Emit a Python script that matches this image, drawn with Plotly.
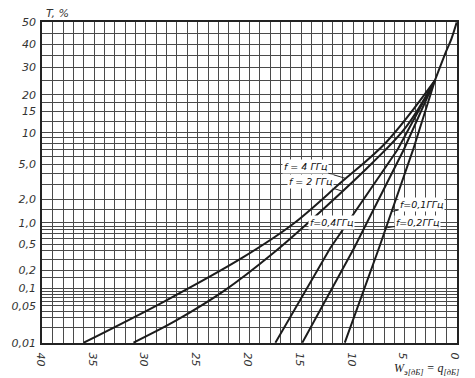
from statistics import NormalDist
import numpy as np
import plotly.graph_objects as go

# ---------------- data ----------------
# W (dB) values and probability T (%) along each curve
f4_W = [36.0, 28.2, 20.6, 15.8, 11.1, 6.8, 2.1]
f4_T = [0.01, 0.06, 0.32, 0.96, 3.2, 8.2, 25]
f2_W = [31.2, 27.2, 22.5, 17.7, 13.0, 8.25, 4.9, 2.1]
f2_T = [0.01, 0.026, 0.09, 0.37, 1.46, 5.0, 11.2, 25]
f04_W = [17.5, 12.2, 5.7, 2.1]
f04_T = [0.01, 0.44, 7.0, 25]
f02_W = [14.9, 9.9, 5.1, 2.1]
f02_T = [0.01, 0.44, 7.0, 25]
f01_W = [10.8, 7.5, 4.2, 2.1]
f01_T = [0.01, 0.44, 7.0, 25]
common_W = [2.1, 1.0, 0.5, 0.0]
common_T = [25, 37, 42.5, 50]

# probability-paper grid values and labels
grid_T = [50, 45, 40, 35, 30, 25, 20, 17.5, 15, 12.5, 10, 9, 8, 7, 6, 5, 4, 3, 2, 1.5,
          1, 0.9, 0.8, 0.7, 0.6, 0.5, 0.4, 0.3, 0.2, 0.15, 0.1, 0.09, 0.08, 0.07, 0.06,
          0.05, 0.04, 0.03, 0.02, 0.01]
label_T = {50: "50", 40: "40", 30: "30", 20: "20", 15: "15", 10: "10", 5: "5,0",
           2: "2,0", 1: "1,0", 0.5: "0,5", 0.2: "0,2", 0.1: "0,1", 0.05: "0,05", 0.01: "0,01"}
x_ticks = list(range(0, 41))
x_labels = {0: "0", 5: "5", 10: "10", 15: "15", 20: "20", 25: "25", 30: "30", 35: "35", 40: "40"}

curve_names = ["f = 4 ГГц", "f = 2 ГГц", "f=0,4ГГц", "f=0,2ГГц", "f=0,1ГГц"]

# ---------------- probability (probit) scale ----------------
nd = NormalDist()
def pz(t):
    if np.ndim(t) == 0:
        return nd.inv_cdf(float(t) / 100.0)
    return np.array([nd.inv_cdf(v / 100.0) for v in t])

def w_on(Wlist, Tlist, t):
    return float(np.interp(pz(t), pz(Tlist), Wlist))

fig = go.Figure()
for W, T, sm in [(f4_W, f4_T, True), (f2_W, f2_T, True), (f04_W, f04_T, False),
                 (f02_W, f02_T, False), (f01_W, f01_T, False), (common_W, common_T, True)]:
    fig.add_trace(go.Scatter(x=W, y=pz(T), mode="lines",
                             line=dict(color="#1c1c1c", width=2,
                                       shape="spline" if sm else "linear", smoothing=1.0),
                             showlegend=False, hoverinfo="skip"))

zmin = pz(0.01)
tickfont = dict(family="DejaVu Sans", size=11, color="#333", style="italic")
fig.update_xaxes(range=[40.03, -0.03], tickmode="array", tickvals=x_ticks,
                 ticktext=[x_labels.get(v, " ") for v in x_ticks],
                 showgrid=True, gridcolor="#4a4a4a", gridwidth=1, zeroline=False,
                 showline=True, linecolor="#222", linewidth=1.5, mirror=True,
                 ticks="", tickfont=tickfont)
fig.update_yaxes(range=[zmin - 0.004, 0.004], tickmode="array",
                 tickvals=list(pz(grid_T)), ticktext=[label_T.get(v, " ") for v in grid_T],
                 showgrid=True, gridcolor="#4a4a4a", gridwidth=1, zeroline=False,
                 showline=True, linecolor="#222", linewidth=1.5, mirror=True,
                 ticks="", tickfont=tickfont, ticklabelstandoff=2)

afont = dict(family="DejaVu Sans", size=9.5, color="#111", style="italic")
def label(text, W, T, t_on, ax, ay, arrow=True):
    fig.add_annotation(x=w_on(W, T, t_on), y=pz(t_on), xref="x", yref="y", text=text,
                       showarrow=arrow, arrowhead=0, arrowwidth=1, arrowcolor="#222",
                       ax=ax, ay=ay, font=afont, bgcolor="white", borderpad=1)

label(curve_names[0], f4_W, f4_T, 3.5, -40, -12)
label(curve_names[1], f2_W, f2_T, 2.5, -32, -10)
label(curve_names[2], f04_W, f04_T, 0.9, -14, -4)
label(curve_names[4], f01_W, f01_T, 1.4, 30, -7)
label(curve_names[3], f01_W, f01_T, 0.85, 32, -5)

fig.add_annotation(xref="paper", yref="paper", x=0.005, y=1.0, xanchor="left", yanchor="bottom",
                   text="T, %", showarrow=False,
                   font=dict(family="DejaVu Sans", size=11, color="#333", style="italic"))
fig.add_annotation(xref="paper", yref="paper", x=1.01, y=-0.05, xanchor="right", yanchor="top",
                   text="W<sub>э[дБ]</sub> = q<sub>[дБ]</sub>", showarrow=False,
                   font=dict(family="Liberation Serif", size=12, color="#222", style="italic"))

fig.update_layout(width=475, height=378, margin=dict(l=35, r=18, t=22, b=32),
                  paper_bgcolor="white", plot_bgcolor="white")
fig.write_html("out.html", config={"displayModeBar": False},
               post_script="document.body.style.margin='0px';")
